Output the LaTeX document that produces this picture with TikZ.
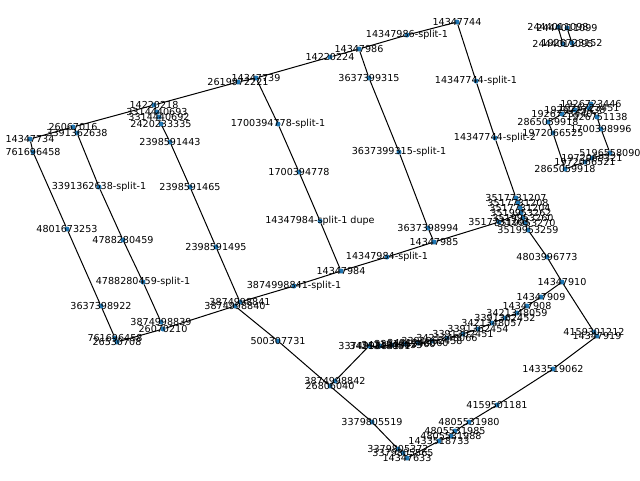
\documentclass[tikz,border=0pt]{standalone}
\usepackage{fontspec}
\setmainfont{DejaVu Sans}
\usetikzlibrary{backgrounds}
\definecolor{nxBlue}{HTML}{1F77B4}
\tikzset{
  dot/.style={circle, fill=nxBlue, inner sep=0pt, minimum size=5pt},
  lbl/.style={font=\fontsize{9.6}{10}\selectfont, inner sep=0pt, text=black},
  edge/.style={draw=black, line width=1pt},
}
% name/x/y/label, in pixel units of the page
\def\nodelist{%
  n14347734/30/139/14347734, n26067016/73/127/26067016, n3391362638/77/133/3391362638,
  n14220218/154/105/14220218, n3314440693/157/112/3314440693, n3314440692/159/117/3314440692,
  n2420233335/161/124/2420233335, n2619972221/238/82/2619972221, n14347739/256/78/14347739,
  n14220224/330/57/14220224, n14347986/359/49/14347986, n14347986s1/407/35/14347986-split-1,
  n14347744/457/22/14347744,
  n761696458/33/152/761696458, n4801673253/67/229/4801673253, n3637398922/101/306/3637398922,
  n761696458b/115/338/761696458, n26530708/117/342/26530708,
  n3391362638s1/99/187/3391362638-split-1, n4788280459/123/240/4788280459,
  n4788280459s1/143/282/4788280459-split-1, n3874998839/161/322/3874998839, n26070210/163/329/26070210,
  n3874998840/235/306/3874998840, n3874998841/240/302/3874998841,
  n3874998841s1/294/286/3874998841-split-1, n14347984/341/271/14347984,
  n14347984s1/387/257/14347984-split-1, n14347985/434/242/14347985,
  n2398591443/170/142/2398591443, n2398591465/190/187/2398591465, n2398591495/216/247/2398591495,
  n1700394778s1/278/124/1700394778-split-1, n1700394778/299/172/1700394778,
  n14347984s1d/320/221/14347984-split-1 dupe,
  n3637399315/369/78/3637399315, n3637399315s1/399/152/3637399315-split-1, n3637398994/428/228/3637398994,
  n14347744s1/476/81/14347744-split-1, n14347744s2/495/138/14347744-split-2,
  n3517731207/516/198/3517731207, n3517731208/518/203/3517731208, n3517731204/520/208/3517731204,
  n3519953262/521/213/3519953262, n3519953260/523/218/3519953260, n3519953270/525/223/3519953270,
  n3519953259/528/230/3519953259, n3517731203/499/222/3517731203,
  n4803996773/547/257/4803996773, n14347910/562/282/14347910,
  n4159301212/594/332/4159301212, n14347919/597/336/14347919,
  n1433519062/553/369/1433519062, n4159501181/497/405/4159501181, n4805531980/469/422/4805531980,
  n4805531985/455/431/4805531985, n4805531988/451/436/4805531988, n1433518733/439/441/1433518733,
  n3379805372/398/449/3379805372, n3379805565/403/453/3379805565, n14347633/407/458/14347633,
  n3379805519/372/422/3379805519, n500307731/278/341/500307731,
  n26806040/330/386/26806040, n3874998842/335/381/3874998842,
  n3374998843/369/346/3374998843, n3421348051/380/346/3421348051, n3421348053/392/345/3421348053,
  n3391362460/405/344/3391362460, n3421348060/418/343/3421348060, n3391362458/432/341/3391362458,
  n3421348066/447/338/3421348066, n3391362451/463/334/3391362451, n3391362454/478/329/3391362454,
  n3421348057/492/323/3421348057, n3391362452/505/318/3391362452, n3421348059/517/313/3421348059,
  n14347908/527/306/14347908, n14347909/541/297/14347909,
  n2444011098/558/27/2444011098, n2444011099/567/28/2444011099,
  n2444011095/563/44/2444011095, n1926723152/572/43/1926723152,
  n2865059918/548/122/2865059918, n1972066525/553/133/1972066525, n2865059919/565/169/2865059918,
  n1972066521/585/162/1972066521, n1972069321/592/158/1972069321, n5196558090/610/153/5196558090,
  n1700398996/601/129/1700398996, n1926751138/597/117/1926751138,
  n1926723451/589/108/1926723451, n1926723446/591/104/1926723446,
  n1926723438/575/110/1926723438, n1926723440/562/114/1926723440%
}
\begin{document}
\begin{tikzpicture}[x=1pt, y=-1pt]
  \useasboundingbox (0,0) rectangle (640,480);
  \foreach \n/\x/\y/\t in \nodelist \node[dot] (\n) at (\x,\y) {};
  \begin{scope}[on background layer]
    \foreach \u/\v in {n14347734/n26067016, n26067016/n14220218, n14220218/n2619972221,
      n2619972221/n14347739, n14347739/n14220224, n14220224/n14347986, n14347986/n14347986s1,
      n14347986s1/n14347744, n26067016/n3391362638, n14220218/n3314440693,
      n3314440693/n3314440692, n3314440692/n2420233335,
      n14347734/n761696458, n761696458/n4801673253, n4801673253/n3637398922,
      n3637398922/n761696458b, n761696458b/n26530708,
      n3391362638/n3391362638s1, n3391362638s1/n4788280459, n4788280459/n4788280459s1,
      n4788280459s1/n3874998839, n3874998839/n26070210,
      n26530708/n26070210, n26070210/n3874998840, n3874998840/n3874998841,
      n3874998841/n3874998841s1, n3874998841s1/n14347984, n14347984/n14347984s1,
      n14347984s1/n14347985, n14347985/n3517731203, n3517731203/n3519953262,
      n2420233335/n2398591443, n2398591443/n2398591465, n2398591465/n2398591495,
      n2398591495/n3874998841,
      n14347739/n1700394778s1, n1700394778s1/n1700394778, n1700394778/n14347984s1d,
      n14347984s1d/n14347984,
      n14347986/n3637399315, n3637399315/n3637399315s1, n3637399315s1/n3637398994,
      n3637398994/n14347985,
      n14347744/n14347744s1, n14347744s1/n14347744s2, n14347744s2/n3517731207,
      n3517731207/n3517731208, n3517731208/n3517731204, n3517731204/n3519953262,
      n3519953262/n3519953260, n3519953260/n3519953270, n3519953270/n3519953259,
      n3519953259/n4803996773, n4803996773/n14347910, n14347910/n4159301212,
      n4159301212/n14347919, n14347919/n1433519062, n1433519062/n4159501181,
      n4159501181/n4805531980, n4805531980/n4805531985, n4805531985/n4805531988,
      n4805531988/n1433518733, n1433518733/n14347633, n14347633/n3379805565,
      n3379805565/n3379805372, n3379805372/n3379805519, n3379805519/n26806040,
      n26806040/n500307731, n500307731/n3874998840, n26806040/n3874998842,
      n3874998842/n3374998843,
      n3374998843/n3421348051, n3421348051/n3421348053, n3421348053/n3391362460,
      n3391362460/n3421348060, n3421348060/n3391362458, n3391362458/n3421348066,
      n3421348066/n3391362451, n3391362451/n3391362454, n3391362454/n3421348057,
      n3421348057/n3391362452, n3391362452/n3421348059, n3421348059/n14347908,
      n14347908/n14347909, n14347909/n14347910,
      n2444011098/n2444011095, n2444011099/n1926723152,
      n2865059918/n1972066525, n1972066525/n2865059919, n2865059919/n1972066521,
      n1972066521/n1972069321, n1972069321/n5196558090, n5196558090/n1700398996,
      n1700398996/n1926751138, n1926751138/n1926723451, n1926723451/n1926723438,
      n1926723438/n1926723440, n1926723440/n2865059918}
      \draw[edge] (\u) -- (\v);
  \end{scope}
  \foreach \n/\x/\y/\t in \nodelist \node[lbl] at (\n) {\t};
\end{tikzpicture}
\end{document}
